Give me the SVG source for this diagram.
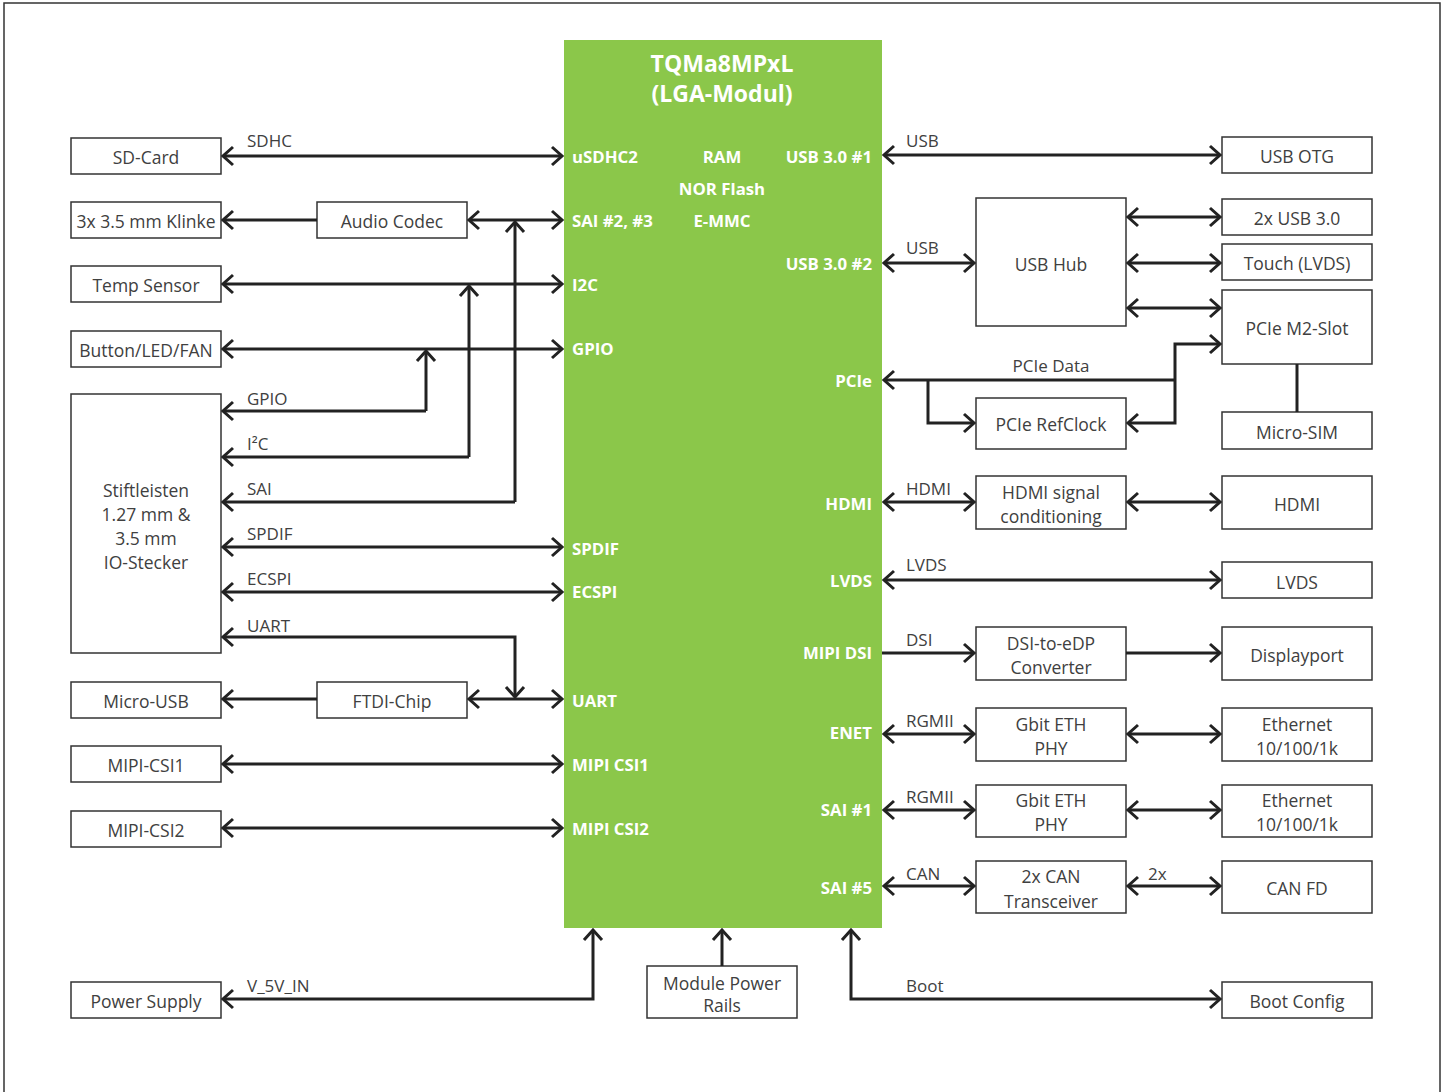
<svg xmlns="http://www.w3.org/2000/svg" width="1448" height="1092" viewBox="0 0 1448 1092">
<defs>
<style>
.frame{fill:none;stroke:#333;stroke-width:1.5}
.box{fill:#fff;stroke:#333;stroke-width:1.5}
.t{font-family:"Open Sans","Liberation Sans",sans-serif;font-size:17.5px;fill:#404040;dominant-baseline:central;text-anchor:middle}
.lbl{font-family:"Open Sans","Liberation Sans",sans-serif;font-size:17px;fill:#404040}
.chip{fill:#8BC74A}
.ct{font-family:"Open Sans","Liberation Sans",sans-serif;font-weight:bold;font-size:16.8px;fill:#fff;dominant-baseline:central}
.ctitle{font-family:"Open Sans","Liberation Sans",sans-serif;font-weight:bold;font-size:23px;fill:#fff;text-anchor:middle}
.c{fill:none;stroke:#222;stroke-width:3}
.a{marker-end:url(#ah)}
.b{marker-start:url(#ah);marker-end:url(#ah)}
.s{marker-start:url(#ah)}
</style>
<marker id="ah" markerUnits="userSpaceOnUse" viewBox="0 0 14 22" refX="12" refY="11" markerWidth="14" markerHeight="22" orient="auto-start-reverse">
<path d="M2,2 L12,11 L2,20" fill="none" stroke="#222" stroke-width="3"/>
</marker>
</defs>
<rect class="frame" x="4" y="3" width="1436" height="1100"/>

<g id="chip">
<rect class="chip" x="564" y="40" width="318" height="888"/>
<text class="ctitle" x="722" y="72">TQMa8MPxL</text>
<text class="ctitle" x="722" y="102">(LGA-Modul)</text>
<text class="ct" x="572" y="156">uSDHC2</text>
<text class="ct" x="722" y="156" text-anchor="middle">RAM</text>
<text class="ct" x="872" y="156" text-anchor="end">USB 3.0 #1</text>
<text class="ct" x="722" y="188" text-anchor="middle">NOR Flash</text>
<text class="ct" x="572" y="220">SAI #2, #3</text>
<text class="ct" x="722" y="220" text-anchor="middle">E-MMC</text>
<text class="ct" x="872" y="263" text-anchor="end">USB 3.0 #2</text>
<text class="ct" x="572" y="284">I2C</text>
<text class="ct" x="572" y="348">GPIO</text>
<text class="ct" x="872" y="380" text-anchor="end">PCIe</text>
<text class="ct" x="872" y="503" text-anchor="end">HDMI</text>
<text class="ct" x="572" y="548">SPDIF</text>
<text class="ct" x="872" y="580" text-anchor="end">LVDS</text>
<text class="ct" x="572" y="591">ECSPI</text>
<text class="ct" x="872" y="652" text-anchor="end">MIPI DSI</text>
<text class="ct" x="572" y="700">UART</text>
<text class="ct" x="872" y="732" text-anchor="end">ENET</text>
<text class="ct" x="572" y="764">MIPI CSI1</text>
<text class="ct" x="872" y="809" text-anchor="end">SAI #1</text>
<text class="ct" x="572" y="828">MIPI CSI2</text>
<text class="ct" x="872" y="887" text-anchor="end">SAI #5</text>
</g>

<g id="sdcard"><rect class="box" x="71" y="138" width="150" height="36"/><text class="t" x="146" y="157">SD-Card</text></g>
<g id="klinke"><rect class="box" x="71" y="202" width="150" height="36"/><text class="t" x="146" y="221">3x 3.5 mm Klinke</text></g>
<g id="audiocodec"><rect class="box" x="317" y="202" width="150" height="36"/><text class="t" x="392" y="221">Audio Codec</text></g>
<g id="tempsensor"><rect class="box" x="71" y="266" width="150" height="36"/><text class="t" x="146" y="285">Temp Sensor</text></g>
<g id="button"><rect class="box" x="71" y="331" width="150" height="36"/><text class="t" x="146" y="350">Button/LED/FAN</text></g>
<g id="stiftleisten"><rect class="box" x="71" y="394" width="150" height="259"/>
<text class="t" x="146" y="490">Stiftleisten</text><text class="t" x="146" y="514">1.27 mm &amp;</text><text class="t" x="146" y="538">3.5 mm</text><text class="t" x="146" y="562">IO-Stecker</text></g>
<g id="microusb"><rect class="box" x="71" y="682" width="150" height="36"/><text class="t" x="146" y="701">Micro-USB</text></g>
<g id="ftdi"><rect class="box" x="317" y="682" width="150" height="36"/><text class="t" x="392" y="701">FTDI-Chip</text></g>
<g id="csi1"><rect class="box" x="71" y="746" width="150" height="36"/><text class="t" x="146" y="765">MIPI-CSI1</text></g>
<g id="csi2"><rect class="box" x="71" y="811" width="150" height="36"/><text class="t" x="146" y="830">MIPI-CSI2</text></g>
<g id="powersupply"><rect class="box" x="71" y="982" width="150" height="36"/><text class="t" x="146" y="1001">Power Supply</text></g>
<g id="powerrails"><rect class="box" x="647" y="966" width="150" height="52"/><text class="t" x="722" y="983">Module Power</text><text class="t" x="722" y="1005">Rails</text></g>

<g id="usbotg"><rect class="box" x="1222" y="137" width="150" height="36"/><text class="t" x="1297" y="156">USB OTG</text></g>
<g id="usbhub"><rect class="box" x="976" y="198" width="150" height="128"/><text class="t" x="1051" y="264">USB Hub</text></g>
<g id="usb30"><rect class="box" x="1222" y="199" width="150" height="36"/><text class="t" x="1297" y="218">2x USB 3.0</text></g>
<g id="touch"><rect class="box" x="1222" y="244" width="150" height="36"/><text class="t" x="1297" y="263">Touch (LVDS)</text></g>
<g id="m2slot"><rect class="box" x="1222" y="290" width="150" height="74"/><text class="t" x="1297" y="328">PCIe M2-Slot</text></g>
<g id="microsim"><rect class="box" x="1222" y="412" width="150" height="37"/><text class="t" x="1297" y="432">Micro-SIM</text></g>
<g id="refclock"><rect class="box" x="976" y="398" width="150" height="51"/><text class="t" x="1051" y="424">PCIe RefClock</text></g>
<g id="hdmicond"><rect class="box" x="976" y="476" width="150" height="53"/><text class="t" x="1051" y="492">HDMI signal</text><text class="t" x="1051" y="516">conditioning</text></g>
<g id="hdmi"><rect class="box" x="1222" y="476" width="150" height="53"/><text class="t" x="1297" y="504">HDMI</text></g>
<g id="lvds"><rect class="box" x="1222" y="562" width="150" height="36"/><text class="t" x="1297" y="582">LVDS</text></g>
<g id="dsiedp"><rect class="box" x="976" y="627" width="150" height="53"/><text class="t" x="1051" y="643">DSI-to-eDP</text><text class="t" x="1051" y="667">Converter</text></g>
<g id="displayport"><rect class="box" x="1222" y="627" width="150" height="53"/><text class="t" x="1297" y="655">Displayport</text></g>
<g id="phy1"><rect class="box" x="976" y="708" width="150" height="53"/><text class="t" x="1051" y="724">Gbit ETH</text><text class="t" x="1051" y="748">PHY</text></g>
<g id="eth1"><rect class="box" x="1222" y="708" width="150" height="53"/><text class="t" x="1297" y="724">Ethernet</text><text class="t" x="1297" y="748">10/100/1k</text></g>
<g id="phy2"><rect class="box" x="976" y="785" width="150" height="52"/><text class="t" x="1051" y="800">Gbit ETH</text><text class="t" x="1051" y="824">PHY</text></g>
<g id="eth2"><rect class="box" x="1222" y="785" width="150" height="52"/><text class="t" x="1297" y="800">Ethernet</text><text class="t" x="1297" y="824">10/100/1k</text></g>
<g id="cantrans"><rect class="box" x="976" y="861" width="150" height="52"/><text class="t" x="1051" y="876">2x CAN</text><text class="t" x="1051" y="901">Transceiver</text></g>
<g id="canfd"><rect class="box" x="1222" y="861" width="150" height="52"/><text class="t" x="1297" y="888">CAN FD</text></g>
<g id="bootconfig"><rect class="box" x="1222" y="982" width="150" height="36"/><text class="t" x="1297" y="1001">Boot Config</text></g>

<g id="connectors">
<path class="c b" d="M223,156 H562"/>
<path class="c s" d="M223,220 H317"/>
<path class="c b" d="M469,220 H562"/>
<path class="c a" d="M515,502 V222"/>
<path class="c s" d="M223,502 H515"/>
<path class="c b" d="M223,284 H562"/>
<path class="c a" d="M469,457 V286"/>
<path class="c s" d="M223,457 H469"/>
<path class="c b" d="M223,349 H562"/>
<path class="c a" d="M426,411 V351"/>
<path class="c s" d="M223,411 H426"/>
<path class="c b" d="M223,547 H562"/>
<path class="c b" d="M223,592 H562"/>
<path class="c s a" d="M223,637 H515 V697"/>
<path class="c s" d="M223,699 H317"/>
<path class="c b" d="M469,699 H562"/>
<path class="c b" d="M223,764 H562"/>
<path class="c b" d="M223,828 H562"/>
<path class="c s a" d="M223,999 H593 V930"/>
<path class="c a" d="M722,966 V930"/>
<path class="c s a" d="M851,930 V999 H1220"/>

<path class="c b" d="M884,155 H1220"/>
<path class="c b" d="M884,263 H974"/>
<path class="c b" d="M1128,217 H1220"/>
<path class="c b" d="M1128,263 H1220"/>
<path class="c b" d="M1128,308 H1220"/>
<path class="c s" d="M884,380 H1175"/>
<path class="c s a" d="M1128,423 H1175 V344 H1220"/>
<path class="c a" d="M928,380 V423 H974"/>
<path class="c" d="M1297,364 V412"/>
<path class="c b" d="M884,502 H974"/>
<path class="c b" d="M1128,502 H1220"/>
<path class="c b" d="M884,580 H1220"/>
<path class="c a" d="M882,653 H974"/>
<path class="c a" d="M1126,653 H1220"/>
<path class="c b" d="M884,734 H974"/>
<path class="c b" d="M1128,734 H1220"/>
<path class="c b" d="M884,810 H974"/>
<path class="c b" d="M1128,810 H1220"/>
<path class="c b" d="M884,886 H974"/>
<path class="c b" d="M1128,886 H1220"/>

<text class="lbl" x="247" y="147">SDHC</text>
<text class="lbl" x="247" y="405">GPIO</text>
<text class="lbl" x="247" y="450">I²C</text>
<text class="lbl" x="247" y="495">SAI</text>
<text class="lbl" x="247" y="540">SPDIF</text>
<text class="lbl" x="247" y="585">ECSPI</text>
<text class="lbl" x="247" y="632">UART</text>
<text class="lbl" x="247" y="992">V_5V_IN</text>
<text class="lbl" x="906" y="147">USB</text>
<text class="lbl" x="906" y="254">USB</text>
<text class="lbl" x="1051" y="372" text-anchor="middle">PCIe Data</text>
<text class="lbl" x="906" y="495">HDMI</text>
<text class="lbl" x="906" y="571">LVDS</text>
<text class="lbl" x="906" y="646">DSI</text>
<text class="lbl" x="906" y="727">RGMII</text>
<text class="lbl" x="906" y="803">RGMII</text>
<text class="lbl" x="906" y="880">CAN</text>
<text class="lbl" x="1148" y="880">2x</text>
<text class="lbl" x="906" y="992">Boot</text>
</g>
</svg>
